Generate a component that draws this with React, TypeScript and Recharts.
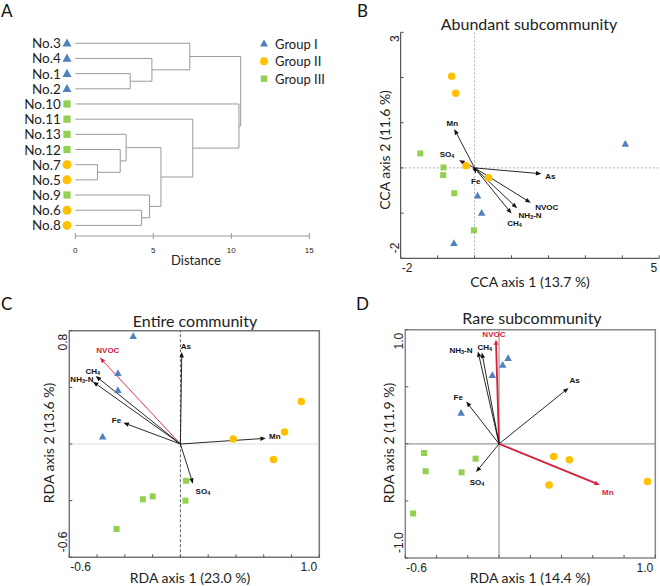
import React from 'react';
import { ScatterChart, Scatter, XAxis, YAxis, ReferenceLine, ReferenceArea } from 'recharts';

const FONT = 'Lato, "Open Sans", sans-serif';
const ARIAL = '"Liberation Sans", Arial, sans-serif';
const W = 330;
const H = 293;

const groupNames = ['Group I', 'Group II', 'Group III'];
const groupColors = ['#4f81bd', '#ffc000', '#92d050'];

// A: cluster tree
const leafNames = ['No.3', 'No.4', 'No.1', 'No.2', 'No.10', 'No.11', 'No.13', 'No.12', 'No.7', 'No.5', 'No.9', 'No.6', 'No.8'];
const leafGroups = [0, 0, 0, 0, 2, 2, 2, 2, 1, 1, 2, 1, 1];
// [child a, child b, distance]; ids from 13 up are earlier merges
const merges = [
  [2, 3, 3.52], [1, 13, 4.91], [0, 14, 7.34],
  [8, 9, 1.42], [7, 16, 2.88], [6, 17, 3.26],
  [11, 12, 4.25], [10, 19, 4.76], [18, 20, 5.49],
  [5, 21, 7.53], [4, 22, 10.49], [15, 23, 10.6],
];
const distTicks = [0, 5, 10, 15];

// B: CCA, abundant subcommunity
const bGroupI = [{ x: 4.08, y: 0.53 }, { x: 0.08, y: -0.62 }, { x: 0.19, y: -1.0 }, { x: -0.56, y: -1.67 }];
const bGroupII = [{ x: -0.62, y: 2.03 }, { x: -0.51, y: 1.65 }, { x: -0.23, y: 0.05 }, { x: 0.38, y: -0.22 }];
const bGroupIII = [{ x: -1.47, y: 0.32 }, { x: -0.84, y: 0.01 }, { x: -0.85, y: -0.16 }, { x: -0.55, y: -0.56 }, { x: -0.02, y: -1.38 }];
const bEnv = [
  { name: 'Mn', x: -0.55, y: 0.86 }, { name: 'SO4', x: -0.42, y: 0.17 }, { name: 'Fe', x: 0.03, y: -0.12 },
  { name: 'As', x: 1.81, y: -0.13 }, { name: 'NVOC', x: 1.52, y: -0.77 }, { name: 'NH3-N', x: 1.15, y: -0.89 },
  { name: 'CH4', x: 1.0, y: -1.01 },
];
const bXTicks = [-2, -1, 0, 1, 2, 3, 4, 5];
const bXTickLabels = ['-2', '', '', '', '', '', '', '5'];
const bYTicks = [-2, -1, 0, 1, 2, 3];
const bYTickLabels = ['-2', '', '', '', '', '3'];

// C: RDA, entire community
const cGroupI = [{ x: -0.34, y: 0.76 }, { x: -0.45, y: 0.5 }, { x: -0.45, y: 0.38 }, { x: -0.56, y: 0.05 }];
const cGroupII = [{ x: 0.87, y: 0.3 }, { x: 0.75, y: 0.085 }, { x: 0.38, y: 0.035 }, { x: 0.67, y: -0.11 }];
const cGroupIII = [{ x: 0.04, y: -0.26 }, { x: -0.2, y: -0.37 }, { x: -0.27, y: -0.39 }, { x: 0.036, y: -0.4 }, { x: -0.46, y: -0.6 }];
const cEnv = [
  { name: 'NVOC', x: -0.58, y: 0.61 }, { name: 'CH4', x: -0.61, y: 0.48 }, { name: 'NH3-N', x: -0.63, y: 0.44 },
  { name: 'Fe', x: -0.41, y: 0.15 }, { name: 'As', x: 0.01, y: 0.65 }, { name: 'Mn', x: 0.615, y: 0.04 },
  { name: 'SO4', x: 0.09, y: -0.28 },
];
const cXTicks = [-0.8, -0.6, -0.4, -0.2, 0, 0.2, 0.4, 0.6, 0.8, 1.0];
const cXTickLabels = ['-0.6', '', '', '', '', '', '', '', '', '1.0'];
const cYTicks = [-0.8, -0.4, 0, 0.4, 0.8];
const cYTickLabels = ['-0.6', '', '', '', '0.8'];

// D: RDA, rare subcommunity
const dGroupI = [{ x: 0.058, y: 0.75 }, { x: 0.023, y: 0.69 }, { x: -0.043, y: 0.6 }, { x: -0.243, y: 0.27 }];
const dGroupII = [{ x: 0.35, y: -0.11 }, { x: 0.45, y: -0.14 }, { x: 0.32, y: -0.36 }, { x: 0.95, y: -0.33 }];
const dGroupIII = [{ x: -0.48, y: -0.08 }, { x: -0.47, y: -0.24 }, { x: -0.15, y: -0.13 }, { x: -0.24, y: -0.25 }, { x: -0.55, y: -0.61 }];
const dEnv = [
  { name: 'NVOC', x: -0.02, y: 0.915 }, { name: 'NH3-N', x: -0.135, y: 0.81 }, { name: 'CH4', x: -0.11, y: 0.8 },
  { name: 'Fe', x: -0.21, y: 0.37 }, { name: 'As', x: 0.445, y: 0.49 }, { name: 'Mn', x: 0.645, y: -0.36 },
  { name: 'SO4', x: -0.147, y: -0.247 },
];
const dXTicks = [-0.6, -0.4, -0.2, 0, 0.2, 0.4, 0.6, 0.8, 1.0];
const dXTickLabels = ['-0.6', '', '', '', '', '', '', '', '1.0'];
const dYTicks = [-1, -0.5, 0, 0.5, 1];
const dYTickLabels = ['-1.0', '', '', '', '1.0'];

// arrow looks: colour, width, label offset from tip
const RED = '#d4213d';
const bLook = {
  Mn: { dx: -2, dy: -6 }, SO4: { dx: -12, dy: -6 }, Fe: { dx: 0, dy: 8 }, As: { dx: 9, dy: 2 },
  NVOC: { dx: 16, dy: 4 }, 'NH3-N': { dx: 13, dy: 7 }, CH4: { dx: 3, dy: 9 },
};
const cLook = {
  NVOC: { dx: 8, dy: -8, color: RED }, CH4: { dx: -3, dy: -5 }, 'NH3-N': { dx: -11, dy: -3 },
  Fe: { dx: -7, dy: -3 }, As: { dx: 4, dy: -6 }, Mn: { dx: 9, dy: -2 }, SO4: { dx: 10, dy: 7 },
};
const dLook = {
  NVOC: { dx: -2, dy: -5, color: RED, width: 1.8 }, 'NH3-N': { dx: -17, dy: -1 }, CH4: { dx: 3, dy: -6 },
  Fe: { dx: -8, dy: -5 }, As: { dx: 6, dy: -8 }, Mn: { dx: 8, dy: 7, color: RED, width: 1.8 }, SO4: { dx: 1, dy: 10 },
};

function Marker({ g, cx, cy, s }: any) {
  const c = groupColors[g];
  if (g === 0) {
    const h = s * 0.9;
    return <polygon points={`${cx},${cy - h * 0.6} ${cx - s / 2},${cy + h * 0.4} ${cx + s / 2},${cy + h * 0.4}`} fill={c} />;
  }
  if (g === 1) return <circle cx={cx} cy={cy} r={s / 2} fill={c} />;
  const q = s * 0.8;
  return <rect x={cx - q / 2} y={cy - q / 2} width={q} height={q} fill={c} />;
}

function chem(name: string, sub = 5.5) {
  const parts = name.split(/(\d)/).filter(Boolean);
  let prev = false;
  return parts.map((p, i) => {
    const isSub = /^\d$/.test(p);
    const dy = isSub ? 2 : prev ? -2 : 0;
    prev = isSub;
    return (
      <tspan key={i} dy={dy} fontSize={isSub ? sub : undefined}>
        {p}
      </tspan>
    );
  });
}

const arrowShape = (name: string, look: any) => (p: any) => {
  const { x1, y1, x2, y2 } = p;
  const color = look.color || '#111';
  const w = look.width || 0.9;
  const len = Math.hypot(x2 - x1, y2 - y1);
  const hl = Math.min(5.5, len);
  const hw = 2.2;
  const ang = Math.atan2(y2 - y1, x2 - x1);
  const bx = x2 - hl * Math.cos(ang);
  const by = y2 - hl * Math.sin(ang);
  const nx = -Math.sin(ang) * hw;
  const ny = Math.cos(ang) * hw;
  return (
    <g>
      <line x1={x1} y1={y1} x2={bx} y2={by} stroke={color} strokeWidth={w} />
      <polygon points={`${x2},${y2} ${bx + nx},${by + ny} ${bx - nx},${by - ny}`} fill={color} />
      <text
        x={x2 + look.dx}
        y={y2 + look.dy}
        textAnchor="middle"
        dominantBaseline="central"
        fontFamily={ARIAL}
        fontWeight="bold"
        fontSize={8}
        fill={color}
      >
        {chem(name)}
      </text>
    </g>
  );
};

const XTick = ({ x, y, index, labels }: any) => {
  const label = labels[index];
  const first = index === 0;
  return (
    <g>
      <line x1={x} x2={x} y1={y} y2={y - 3} stroke="#555" />
      {label ? (
        <text x={first ? x + 1 : x - 2} y={y + 10} dominantBaseline="central" textAnchor={first ? 'start' : 'end'} fontFamily={ARIAL} fontSize={12} fill="#222">
          {label}
        </text>
      ) : null}
    </g>
  );
};

const YTick = ({ x, y, index, labels }: any) => {
  const label = labels[index];
  const top = index === labels.length - 1;
  const ty = top ? y + 3 : y - 5;
  const tx = x - 2;
  return (
    <g>
      <line x1={x} x2={x + 3} y1={y} y2={y} stroke="#555" />
      {label ? (
        <text transform={`rotate(-90 ${tx} ${ty})`} x={tx} y={ty} textAnchor={top ? 'end' : 'start'} fontFamily={ARIAL} fontSize={12} fill="#222">
          {label}
        </text>
      ) : null}
    </g>
  );
};

function Letter({ x, y, children }: any) {
  return (
    <text x={x} y={y} fontFamily={FONT} fontSize={17} fill="#111">
      {children}
    </text>
  );
}

function treeSegments() {
  const nodes = leafNames.map((_, i) => ({ row: i, h: 0 }));
  const segs: any[] = [];
  merges.forEach(([a, b, h]) => {
    const A = nodes[a];
    const B = nodes[b];
    segs.push([{ x: A.h, y: A.row }, { x: h, y: A.row }]);
    segs.push([{ x: B.h, y: B.row }, { x: h, y: B.row }]);
    segs.push([{ x: h, y: A.row }, { x: h, y: B.row }]);
    nodes.push({ row: (A.row + B.row) / 2, h });
  });
  return segs;
}

// axis boxes are 1px so that recharts draws them; margins take that pixel back
function ClusterPanel() {
  const segs = treeSegments();
  const rows = leafNames.map((_, i) => i);
  const leaves = leafNames.map((_, i) => ({ x: 0, y: i }));
  return (
    <div style={{ position: 'absolute', left: 0, top: 0 }}>
      <ScatterChart width={W} height={H} margin={{ top: 35.7, left: 74.3, right: 20.7, bottom: 56 }}>
        <XAxis
          type="number"
          dataKey="x"
          domain={[0, 15]}
          ticks={distTicks}
          interval={0}
          height={1}
          tickSize={0}
          tickMargin={0}
          axisLine={{ stroke: '#999' }}
          tickLine={false}
          tick={({ x, y, payload }: any) => (
            <g>
              <line x1={x} x2={x} y1={y - 3} y2={y + 3} stroke="#999" />
              <text x={x} y={y + 14} textAnchor="middle" dominantBaseline="central" fontFamily={ARIAL} fontSize={8} fill="#222">
                {payload.value}
              </text>
            </g>
          )}
        />
        <YAxis
          type="number"
          dataKey="y"
          domain={[-0.5, 12.7]}
          reversed
          ticks={rows}
          interval={0}
          width={1}
          tickSize={0}
          tickMargin={0}
          axisLine={false}
          tickLine={false}
          tick={({ x, y, payload }: any) => (
            <g>
              <text x={x - 14.5} y={y} textAnchor="end" dominantBaseline="central" fontFamily={FONT} fontSize={13.5} fill="#222">
                {leafNames[payload.value]}
              </text>
              <Marker g={leafGroups[payload.value]} cx={x - 8.3} cy={y} s={9} />
            </g>
          )}
        />
        {segs.map((s, i) => (
          <ReferenceLine key={i} segment={s} stroke="#9a9a9a" strokeWidth={1} ifOverflow="visible" />
        ))}
        <Scatter data={leaves} isAnimationActive={false} shape={() => <g />} />
        <text x={196} y={260} textAnchor="middle" dominantBaseline="central" fontFamily={FONT} fontSize={13} fill="#222">
          Distance
        </text>
        {groupNames.map((n, g) => (
          <g key={n}>
            <Marker g={g} cx={264} cy={43.7 + g * 17.5} s={8} />
            <text x={275} y={43.7 + g * 17.5} dominantBaseline="central" fontFamily={FONT} fontSize={13} fill="#222">
              {n}
            </text>
          </g>
        ))}
        <Letter x={1} y={17}>A</Letter>
      </ScatterChart>
    </div>
  );
}

function Ordination(props: any) {
  const { pos, plot, xDomain, yDomain, xTicks, xTickLabels, yTicks, yTickLabels, groups, env, look, title, titlePos, xTitle, xTitlePos, yTitle, yTitlePos, zeroX, zeroY, box, letter } = props;
  return (
    <div style={{ position: 'absolute', left: pos[0], top: pos[1] }}>
      <ScatterChart width={W} height={H} margin={{ top: plot.t, left: plot.l - 1, right: W - plot.r, bottom: H - plot.b - 1 }}>
        <XAxis
          type="number"
          dataKey="x"
          domain={xDomain}
          ticks={xTicks}
          interval={0}
          height={1}
          tickSize={0}
          tickMargin={0}
          allowDataOverflow
          axisLine={box ? false : { stroke: '#333' }}
          tickLine={false}
          tick={(p: any) => <XTick {...p} labels={xTickLabels} />}
        />
        <YAxis
          type="number"
          dataKey="y"
          domain={yDomain}
          ticks={yTicks}
          interval={0}
          width={1}
          tickSize={0}
          tickMargin={0}
          allowDataOverflow
          axisLine={box ? false : { stroke: '#333' }}
          tickLine={false}
          tick={(p: any) => <YTick {...p} labels={yTickLabels} />}
        />
        <ReferenceLine x={0} {...zeroX} ifOverflow="visible" />
        <ReferenceLine y={0} {...zeroY} ifOverflow="visible" />
        {box ? (
          <ReferenceArea x1={xDomain[0]} x2={xDomain[1]} y1={yDomain[0]} y2={yDomain[1]} fill="none" fillOpacity={0} stroke={box.stroke} strokeWidth={box.width} ifOverflow="visible" />
        ) : null}
        {env.map((e: any) => (
          <ReferenceLine
            key={e.name}
            segment={[{ x: 0, y: 0 }, { x: e.x, y: e.y }]}
            ifOverflow="visible"
            shape={arrowShape(e.name, look[e.name])}
          />
        ))}
        {groups.map((data: any, g: number) => (
          <Scatter key={g} data={data} isAnimationActive={false} shape={(p: any) => <Marker g={g} cx={p.cx} cy={p.cy} s={7.5} />} />
        ))}
        <text x={titlePos[0]} y={titlePos[1]} textAnchor="middle" dominantBaseline="central" fontFamily={FONT} fontSize={16} fill="#222">
          {title}
        </text>
        <text x={xTitlePos[0]} y={xTitlePos[1]} textAnchor="middle" dominantBaseline="central" fontFamily={FONT} fontSize={14} fill="#222">
          {xTitle}
        </text>
        <text
          transform={`rotate(-90 ${yTitlePos[0]} ${yTitlePos[1]})`}
          x={yTitlePos[0]}
          y={yTitlePos[1]}
          textAnchor="middle"
          dominantBaseline="central"
          fontFamily={FONT}
          fontSize={14}
          fill="#222"
        >
          {yTitle}
        </text>
        <Letter x={letter[0]} y={letter[1]}>{letter[2]}</Letter>
      </ScatterChart>
    </div>
  );
}

export default function App() {
  return (
    <div style={{ position: 'absolute', left: 0, top: 0, width: 660, height: 586, background: '#fff', overflow: 'hidden' }}>
      <ClusterPanel />
      <Ordination
        pos={[330, 0]}
        plot={{ l: 70.7, t: 32.3, r: 329.3, b: 258.3 }}
        xDomain={[-2, 5]}
        yDomain={[-2, 3]}
        xTicks={bXTicks}
        xTickLabels={bXTickLabels}
        yTicks={bYTicks}
        yTickLabels={bYTickLabels}
        groups={[bGroupI, bGroupII, bGroupIII]}
        env={bEnv}
        look={bLook}
        title="Abundant subcommunity"
        titlePos={[199, 23]}
        xTitle="CCA axis 1 (13.7 %)"
        xTitlePos={[200, 281]}
        yTitle="CCA axis 2 (11.6 %)"
        yTitlePos={[54, 150]}
        zeroX={{ stroke: '#999', strokeWidth: 0.8, strokeDasharray: '2 2' }}
        zeroY={{ stroke: '#999', strokeWidth: 0.8, strokeDasharray: '2 2' }}
        box={null}
        letter={[27, 17, 'B']}
      />
      <Ordination
        pos={[0, 293]}
        plot={{ l: 69.3, t: 37.7, r: 319.3, b: 264.3 }}
        xDomain={[-0.8, 1.0]}
        yDomain={[-0.8, 0.8]}
        xTicks={cXTicks}
        xTickLabels={cXTickLabels}
        yTicks={cYTicks}
        yTickLabels={cYTickLabels}
        groups={[cGroupI, cGroupII, cGroupIII]}
        env={cEnv}
        look={cLook}
        title="Entire community"
        titlePos={[195, 27]}
        xTitle="RDA axis 1 (23.0 %)"
        xTitlePos={[190, 284]}
        yTitle="RDA axis 2 (13.6 %)"
        yTitlePos={[48, 150]}
        zeroX={{ stroke: '#333', strokeWidth: 0.8, strokeDasharray: '3 2' }}
        zeroY={{ stroke: '#aaa', strokeWidth: 0.8, strokeDasharray: '1 1' }}
        box={{ stroke: '#777', width: 1.5 }}
        letter={[1, 17, 'C']}
      />
      <Ordination
        pos={[330, 293]}
        plot={{ l: 75.3, t: 36.7, r: 325.3, b: 265 }}
        xDomain={[-0.6, 1.0]}
        yDomain={[-1, 1]}
        xTicks={dXTicks}
        xTickLabels={dXTickLabels}
        yTicks={dYTicks}
        yTickLabels={dYTickLabels}
        groups={[dGroupI, dGroupII, dGroupIII]}
        env={dEnv}
        look={dLook}
        title="Rare subcommunity"
        titlePos={[202, 24]}
        xTitle="RDA axis 1 (14.4 %)"
        xTitlePos={[200, 284]}
        yTitle="RDA axis 2 (11.9 %)"
        yTitlePos={[58, 150]}
        zeroX={{ stroke: '#999', strokeWidth: 1.2 }}
        zeroY={{ stroke: '#999', strokeWidth: 1.2 }}
        box={{ stroke: '#888', width: 1.5 }}
        letter={[26, 17, 'D']}
      />
    </div>
  );
}
